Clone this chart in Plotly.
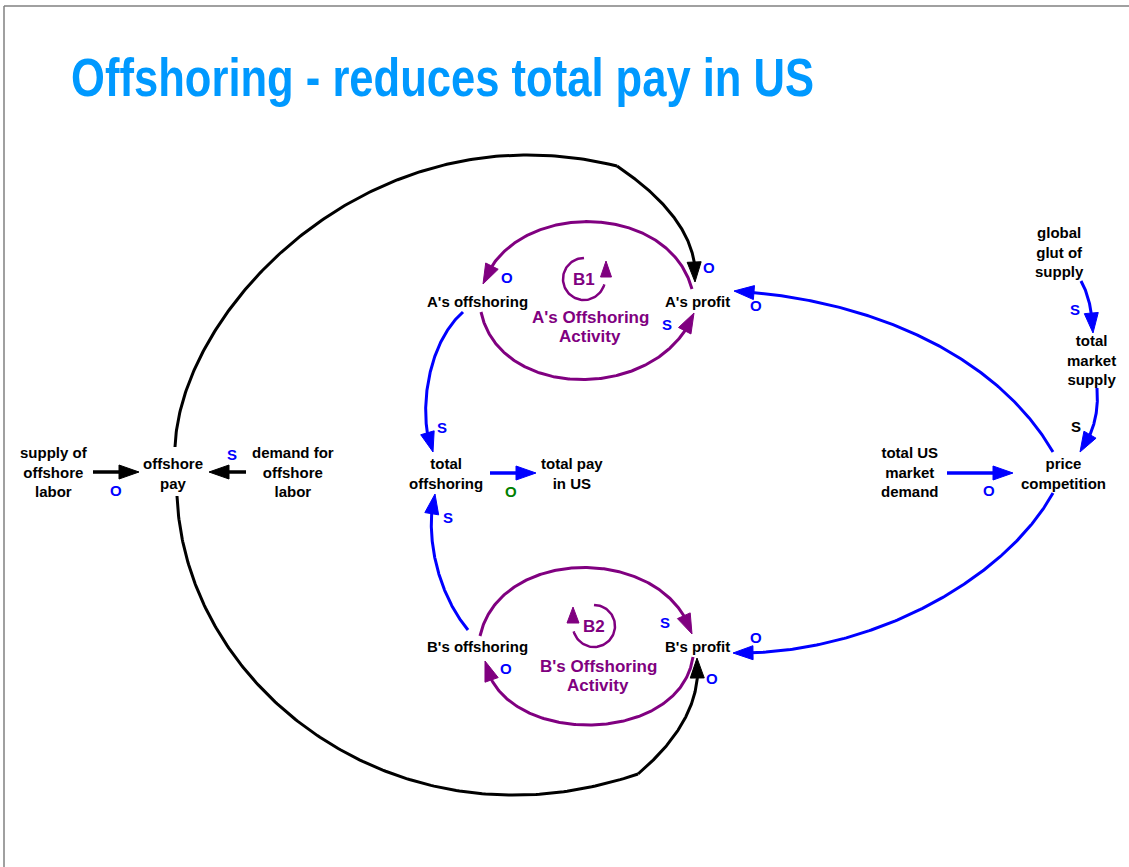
import numpy as np
from math import comb
import plotly.graph_objects as go

# ---------------- content ----------------
TITLE = "Offshoring - reduces total pay in US"

NODE_NAMES = ["supply", "offpay", "demand", "a_off", "a_profit", "tot_off",
              "tot_pay", "b_off", "b_profit", "glut", "mkt_supply",
              "us_demand", "price"]
NODE_TEXT = ["supply of<br>offshore<br>labor", "offshore<br>pay", "demand for<br>offshore<br>labor",
             "A's offshoring", "A's profit", "total<br>offshoring", "total pay<br>in US",
             "B's offshoring", "B's profit", "global<br>glut of<br>supply",
             "total<br>market<br>supply", "total US<br>market<br>demand", "price<br>competition"]

LOOP_NAMES = ["B1", "B2"]
LOOP_TEXT = ["A's Offshoring", "Activity", "B's Offshoring", "Activity"]

# links: (from, to, polarity)
LINK_FROM = ["supply", "demand", "tot_off", "us_demand", "glut", "mkt_supply", "price", "price",
             "a_off", "b_off", "a_profit", "a_off", "b_off", "b_profit", "offpay", "offpay"]
LINK_TO = ["offpay", "offpay", "tot_pay", "price", "mkt_supply", "price", "a_profit", "b_profit",
           "tot_off", "tot_off", "a_off", "a_profit", "b_profit", "b_off", "a_profit", "b_profit"]
LINK_POLARITY = ["O", "S", "O", "O", "S", "S", "O", "O",
                 "S", "S", "O", "S", "S", "O", "O", "O"]

# ---------------- layout / styling ----------------
W, H = 1129, 867
BLUE = "#0000FF"
PURPLE = "#800080"
BLACK = "#000000"
GREEN = "#008000"
TITLE_COLOR = "#0099FF"
FONT = "Liberation Sans, Arial, sans-serif"

NODE_POS = {
    "supply": (54, 472), "offpay": (173, 473), "demand": (293, 472),
    "a_off": (477, 301), "a_profit": (697, 301), "tot_off": (446, 473),
    "tot_pay": (572, 473),
    "b_off": (477, 646), "b_profit": (697, 646), "glut": (1059, 252),
    "mkt_supply": (1091, 360), "us_demand": (910, 472), "price": (1063, 473),
}

# geometry of each link (bezier control points, line width, colour)
LINK_GEOM = [
    ([(93, 472), (139, 472)], 3.5, BLACK),
    ([(246, 472), (209, 472)], 3.5, BLACK),
    ([(490, 473), (536, 473)], 3.5, BLUE),
    ([(947, 473), (1013, 473)], 3.5, BLUE),
    ([(1081, 281), (1092, 300), (1093, 333)], 3, BLUE),
    ([(1097, 388), (1100, 425), (1080, 452)], 3, BLUE),
    ([(1053, 452), (1000, 360), (880, 300), (734, 291)], 3, BLUE),
    ([(1053, 493), (1005, 580), (870, 655), (733, 653)], 3, BLUE),
    ([(463, 312), (425, 345), (418, 420), (433, 452)], 3, BLUE),
    ([(468, 630), (435, 590), (425, 530), (435, 494)], 3, BLUE),
    ([(692, 289), (668, 200), (512, 200), (483, 284)], 3, PURPLE),
    ([(481, 312), (500, 402), (660, 402), (694, 313)], 3, PURPLE),
    ([(480, 636), (500, 545), (665, 545), (692, 634)], 3, PURPLE),
    ([(693, 657), (680, 747), (500, 747), (485, 661)], 3, PURPLE),
    ([(175, 447), (180, 310), (370, 105), (617, 166)], 3, BLACK),
    ([(177, 496), (185, 690), (400, 855), (638, 774)], 3, BLACK),
]
# continuation segments for the two long black links (end with arrow)
LINK_EXTRA = {
    14: [(617, 166), (700, 222), (695, 282)],
    15: [(638, 774), (704, 718), (697, 658)],
}
POL_POS = [(116, 490), (232, 454), (511, 491), (989, 490), (1075, 309), (1076, 426),
           (756, 305), (756, 637), (442, 427), (448, 517), (507, 277), (667, 324),
           (665, 622), (506, 668), (709, 267), (712, 678)]
POL_COLOR = [BLUE, BLUE, GREEN, BLUE, BLUE, BLACK, BLUE, BLUE, BLUE, BLUE, BLUE, BLUE,
             BLUE, BLUE, BLUE, BLUE]

LOOP_POS = [(584, 279), (594, 626)]
LOOP_TEXT_POS = [(590, 317), (590, 336), (598, 666), (598, 685)]

fig = go.Figure()


def bez(P, n=200):
    P = np.array(P, float)
    t = np.linspace(0, 1, n)[:, None]
    k = len(P) - 1
    return sum(comb(k, i) * (1 - t) ** (k - i) * t ** i * P[i] for i in range(k + 1))


def add_line(pts, color, width):
    fig.add_trace(go.Scatter(x=pts[:, 0], y=pts[:, 1], mode="lines",
                             line=dict(color=color, width=width, shape="linear"),
                             hoverinfo="skip", showlegend=False))


def add_head(tip, d, color, L=20, Wd=14):
    base = tip - L * d
    perp = np.array([-d[1], d[0]])
    tri = np.array([tip, base + perp * Wd / 2, base - perp * Wd / 2, tip])
    fig.add_trace(go.Scatter(x=tri[:, 0], y=tri[:, 1], mode="lines", fill="toself",
                             fillcolor=color, line=dict(color=color, width=1),
                             hoverinfo="skip", showlegend=False))


def arrow_curve(P, color, width, L=20, Wd=14):
    pts = bez(P)
    tip = pts[-1]
    dist = np.linalg.norm(pts - tip, axis=1)
    idx = np.where(dist >= L)[0]
    j = idx[-1] if len(idx) else 0
    d = tip - pts[j]
    d = d / np.linalg.norm(d)
    base = tip - L * d
    keep = pts[: j + 1]
    line_pts = np.vstack([keep, base + 2 * d])
    add_line(line_pts, color, width)
    add_head(tip, d, color, L, Wd)


for i, (P, w, c) in enumerate(LINK_GEOM):
    if i in LINK_EXTRA:
        add_line(bez(P), c, w)
        arrow_curve(LINK_EXTRA[i], c, w)
    else:
        arrow_curve(P, c, w)

# loop symbols
r = 21
cx, cy = LOOP_POS[0]
th = np.radians(np.linspace(90, 345, 80))
arc = np.column_stack([cx + r * np.cos(th), cy - r * np.sin(th)])
add_line(arc, PURPLE, 2.5)
add_head(np.array([cx + 22.0, cy - 18.0]), np.array([0.0, -1.0]), PURPLE, L=16, Wd=11)

cx, cy = LOOP_POS[1]
th = np.radians(np.linspace(90, -165, 80))
arc = np.column_stack([cx + r * np.cos(th), cy - r * np.sin(th)])
add_line(arc, PURPLE, 2.5)
add_head(np.array([cx - 21.0, cy - 19.0]), np.array([0.0, -1.0]), PURPLE, L=16, Wd=12)

annotations = []
annotations.append(dict(x=69, y=77, text="<b>" + TITLE + "</b>", xanchor="left", yanchor="middle",
                        font=dict(family=FONT, size=53, color=TITLE_COLOR)))
for name, txt in zip(NODE_NAMES, NODE_TEXT):
    x, y = NODE_POS[name]
    annotations.append(dict(x=x, y=y, text="<b>" + txt + "</b>", xanchor="center", yanchor="middle",
                            font=dict(family=FONT, size=15, color=BLACK)))
for pol, (x, y), c in zip(LINK_POLARITY, POL_POS, POL_COLOR):
    annotations.append(dict(x=x, y=y, text="<b>" + pol + "</b>", xanchor="center", yanchor="middle",
                            font=dict(family=FONT, size=15, color=c)))
for name, (x, y) in zip(LOOP_NAMES, LOOP_POS):
    annotations.append(dict(x=x, y=y, text="<b>" + name + "</b>", xanchor="center", yanchor="middle",
                            font=dict(family=FONT, size=17, color=PURPLE)))
for txt, (x, y) in zip(LOOP_TEXT, LOOP_TEXT_POS):
    annotations.append(dict(x=x, y=y, text="<b>" + txt + "</b>", xanchor="center", yanchor="middle",
                            font=dict(family=FONT, size=17, color=PURPLE)))
for a in annotations:
    a.update(xref="x", yref="y", showarrow=False)

shapes = [
    dict(type="line", x0=4, y0=6, x1=W, y1=6, line=dict(color="#808080", width=1.5),
         xref="x", yref="y"),
    dict(type="line", x0=4, y0=6, x1=4, y1=H, line=dict(color="#808080", width=1.5),
         xref="x", yref="y"),
]

fig.update_layout(
    width=W, height=H, autosize=False,
    margin=dict(l=0, r=0, t=0, b=0, pad=0),
    paper_bgcolor="white", plot_bgcolor="white",
    xaxis=dict(range=[0, W], visible=False, fixedrange=True),
    yaxis=dict(range=[H, 0], visible=False, fixedrange=True),
    annotations=annotations, shapes=shapes,
    hovermode=False, showlegend=False,
)

# remove the page's default body margin and draw the title in a narrow (condensed) width
POST = """
document.body.style.margin = '0';
document.body.style.overflow = 'hidden';
var t = document.querySelectorAll('.annotation-text')[0];
if (t) {
  t.style.transformBox = 'fill-box';
  t.style.transformOrigin = '0% 50%';
  t.style.transform = 'scaleX(0.822)';
}
"""

fig.write_html("out.html", config={"displayModeBar": False}, post_script=POST)
